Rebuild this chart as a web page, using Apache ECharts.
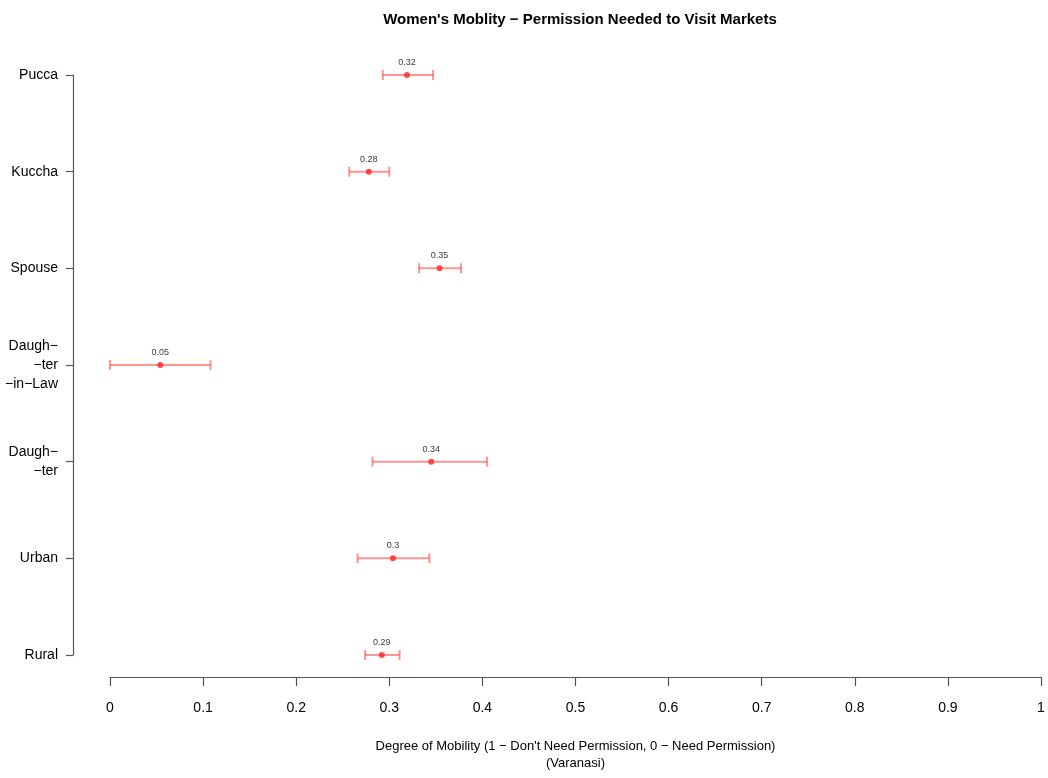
<!DOCTYPE html>
<html><head><meta charset="utf-8">
<script src="https://cdn.jsdelivr.net/npm/echarts@6/dist/echarts.min.js"></script>
<style>html,body{margin:0;padding:0;background:#fff}#c{width:1048px;height:778px}</style>
</head><body><div id="c"></div>
<script>
const categories = ['Rural', 'Urban', 'Daugh\u2212\n\u2212ter', 'Daugh\u2212\n\u2212ter\n\u2212in\u2212Law', 'Spouse', 'Kuccha', 'Pucca'];
const means = [0.292, 0.304, 0.345, 0.054, 0.354, 0.278, 0.319];
const lower = [0.274, 0.266, 0.282, 0.0, 0.332, 0.257, 0.293];
const upper = [0.311, 0.343, 0.405, 0.108, 0.377, 0.300, 0.347];
const valueLabels = ['0.29', '0.3', '0.34', '0.05', '0.35', '0.28', '0.32'];
const xTicks = [0, 0.1, 0.2, 0.3, 0.4, 0.5, 0.6, 0.7, 0.8, 0.9, 1];

const chart = echarts.init(document.getElementById('c'));
const font = 'Liberation Sans, Arial, Helvetica, sans-serif';
const errData = categories.map((c, i) => [i, lower[i], upper[i]]);
const ptData = categories.map((c, i) => [means[i], i, valueLabels[i]]);

chart.setOption({
  animation: false,
  backgroundColor: '#fff',
  title: {
    text: "Women's Moblity \u2212 Permission Needed to Visit Markets",
    left: 575, top: 7, textAlign: 'center',
    textStyle: {fontFamily: font, fontSize: 15, fontWeight: 'bold', color: '#000'}
  },
  grid: {left: 110, right: 7, top: 75, bottom: 123},
  xAxis: {
    type: 'value', min: 0, max: 1, interval: 0.1, offset: 22,
    axisLine: {show: true, onZero: false, lineStyle: {color: '#555', width: 1.2}},
    axisTick: {show: true, length: 9, lineStyle: {color: '#555', width: 1.2}},
    splitLine: {show: false},
    axisLabel: {fontFamily: font, fontSize: 14, color: '#000', margin: 24,
      formatter: v => { const t = xTicks.find(x => Math.abs(x - v) < 1e-9); return t === undefined ? '' : String(t); }},
    name: "Degree of Mobility (1 \u2212 Don't Need Permission, 0 \u2212 Need Permission)\n(Varanasi)",
    nameLocation: 'middle', nameGap: 61,
    nameTextStyle: {fontFamily: font, fontSize: 13, color: '#000', lineHeight: 17}
  },
  yAxis: {
    type: 'category', data: categories, boundaryGap: false, offset: 37,
    axisLine: {show: true, onZero: false, lineStyle: {color: '#555', width: 1.2}},
    axisTick: {show: true, length: 7, alignWithLabel: true, lineStyle: {color: '#555', width: 1.2}},
    splitLine: {show: false},
    axisLabel: {fontFamily: font, fontSize: 14, color: '#000', margin: 15, lineHeight: 19, align: 'right'}
  },
  series: [
    {
      type: 'custom',
      data: errData,
      renderItem: (params, api) => {
        const y = api.value(0);
        const a = api.coord([api.value(1), y]);
        const b = api.coord([api.value(2), y]);
        const st = {stroke: 'rgba(255,60,60,0.55)', lineWidth: 2};
        const h = 5;
        return {type: 'group', children: [
          {type: 'line', shape: {x1: a[0], y1: a[1], x2: b[0], y2: b[1]}, style: st},
          {type: 'line', shape: {x1: a[0], y1: a[1] - h, x2: a[0], y2: a[1] + h}, style: st},
          {type: 'line', shape: {x1: b[0], y1: b[1] - h, x2: b[0], y2: b[1] + h}, style: st}
        ]};
      },
      encode: {x: [1, 2], y: 0},
      z: 2
    },
    {
      type: 'scatter',
      data: ptData,
      symbol: 'circle', symbolSize: 6,
      itemStyle: {color: '#ff2020'},
      label: {show: true, position: 'top', distance: 5, formatter: p => p.data[2],
        fontFamily: font, fontSize: 9, color: '#000'},
      z: 3
    }
  ]
});
</script></body></html>
